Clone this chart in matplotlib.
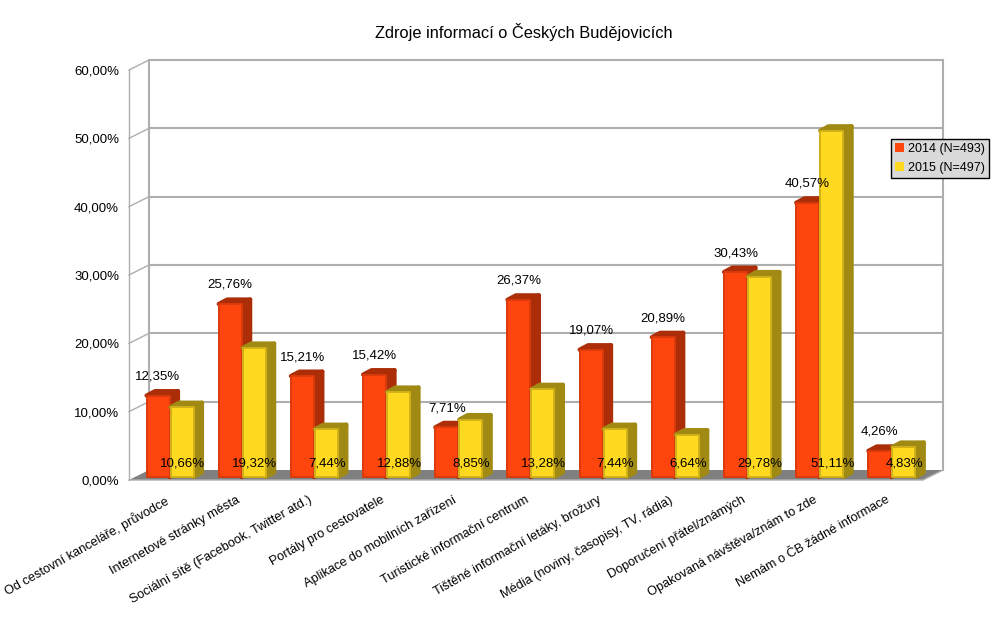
import matplotlib
matplotlib.use("Agg")
import matplotlib.pyplot as plt
from matplotlib.patches import Polygon, Patch
from matplotlib.transforms import Affine2D
import numpy as np

plt.rcParams['font.family'] = ['Liberation Sans', 'DejaVu Sans']

title = "Zdroje informací o Českých Budějovicích"
categories = ["Od cestovní kanceláře, průvodce", "Internetové stránky města",
              "Sociální sítě (Facebook, Twitter atd.)", "Portály pro cestovatele",
              "Aplikace do mobilních zařízení", "Turistické informační centrum",
              "Tištěné informační letáky, brožury", "Média (noviny, časopisy, TV, rádia)",
              "Doporučení přátel/známých", "Opakovaná návštěva/znám to zde",
              "Nemám o ČB žádné informace"]
series_2014 = [12.35, 25.76, 15.21, 15.42, 7.71, 26.37, 19.07, 20.89, 30.43, 40.57, 4.26]
series_2015 = [10.66, 19.32, 7.44, 12.88, 8.85, 13.28, 7.44, 6.64, 29.78, 51.11, 4.83]
legend_labels = ["2014 (N=493)", "2015 (N=497)"]
y_ticks = [0, 10, 20, 30, 40, 50, 60]

W, H = 998, 631
fig = plt.figure(figsize=(W / 100, H / 100), dpi=100, facecolor='white')
L, R, T, B = 129, 923, 70, 480
ax = fig.add_axes([L / W, 1 - B / H, (R - L) / W, (B - T) / H])
ax.set_xlim(0, len(categories))
ax.set_ylim(0, 60)
ax.axis('off')

px = (R - L) / len(categories)
py = (B - T) / 60
base = ax.transData
shift = lambda dx, dy: base + Affine2D().translate(dx, dy)
GRID = '#aeaeae'
WX, WY = 20, 10
n = len(categories)
FS = 9.5

# floor
ax.add_patch(Polygon([(0, 0), (n, 0), (n + WX / px, WY / py), (WX / px, WY / py)],
                     closed=True, fc='#808080', ec='none', clip_on=False, zorder=1))
# back wall, side wall
for v in y_ticks[1:]:
    ax.plot([WX / px, n + WX / px], [v + WY / py] * 2, color=GRID, lw=1.5, clip_on=False, zorder=1,
            solid_capstyle='butt')
    ax.plot([0, WX / px], [v, v + WY / py], color=GRID, lw=1.0, clip_on=False, zorder=1)
ax.plot([WX / px] * 2, [WY / py, 60 + WY / py], color=GRID, lw=1.5, clip_on=False, zorder=1)
ax.plot([n + WX / px] * 2, [WY / py, 60 + WY / py], color=GRID, lw=1.5, clip_on=False, zorder=1)
ax.plot([0, 0], [0, 60], color=GRID, lw=1.0, clip_on=False, zorder=1)
ax.plot([0, n, n + WX / px], [0, 0, WY / py], color=GRID, lw=1.0, clip_on=False, zorder=1.5)

fmt = lambda v: f"{v:.2f}".replace('.', ',') + "%"
for v in y_ticks:
    ax.text(-10 / px, v, fmt(v), transform=shift(0, -1.5), ha='right', va='center',
            fontsize=FS, color='black', clip_on=False)

bw = 23 / px
dep_x, dep_y = 8.5 / px, 4.5 / py
floor = 3 / py
x0 = np.arange(n) + 17.5 / px
styles = [(series_2014, x0, '#ff450e', '#ab2e08', '#d93a0c', 3),
          (series_2015, x0 + 24 / px, '#ffd91f', '#a08a14', '#d2b018', 4)]
for vals, xs, col, side, edge, z in styles:
    for x, v in zip(xs, vals):
        ax.add_patch(Polygon([(x + bw, floor), (x + bw + dep_x, floor + dep_y), (x + bw + dep_x, v + dep_y),
                              (x + bw, v)], closed=True, fc=side, ec=side, lw=3.0,
                             joinstyle='round', clip_on=False, zorder=z))
        ax.add_patch(Polygon([(x, v), (x + dep_x, v + dep_y), (x + bw + dep_x, v + dep_y), (x + bw, v)],
                             closed=True, fc=side, ec=side, lw=3.0, joinstyle='round',
                             clip_on=False, zorder=z))
    ax.bar(xs, np.array(vals) - floor, bottom=floor, width=bw, align='edge', color=col, edgecolor=edge,
           linewidth=1.4, joinstyle='round', clip_on=False, zorder=z + 0.1)

for x, v in zip(x0, series_2014):
    ax.text(x + bw / 2, v, fmt(v), transform=shift(0, 19), ha='center', va='center',
            fontsize=FS, clip_on=False, zorder=10)
for x, v in zip(x0 + 24 / px, series_2015):
    ax.text(x + bw / 2, 0, fmt(v), transform=shift(0.5, 17), ha='center', va='center',
            fontsize=FS, clip_on=False, zorder=10)

for i, c in enumerate(categories):
    ax.text(i + 0.5, 0, c, transform=shift(-1, -14), rotation=29.5, rotation_mode='anchor',
            ha='right', va='top', fontsize=9.15, color='black', clip_on=False)

fig.text(524 / W, 1 - 32 / H, title, ha='center', va='center', fontsize=11.8, color='black')

handles = [Patch(fc='#ff450e', ec='none'), Patch(fc='#ffd91f', ec='none')]
leg = fig.legend(handles, legend_labels, loc='center', bbox_to_anchor=(940 / W, 1 - 158.5 / H),
                 frameon=True, fancybox=False, fontsize=9.0, handlelength=0.75, handleheight=0.75,
                 handletextpad=0.35, labelspacing=0.55, borderpad=0.3, borderaxespad=0)
leg.get_frame().set(facecolor='#d9d9d9', edgecolor='black', linewidth=1.0, alpha=1)
leg.set_zorder(20)

fig.savefig("out.png", dpi=100, facecolor='white')
